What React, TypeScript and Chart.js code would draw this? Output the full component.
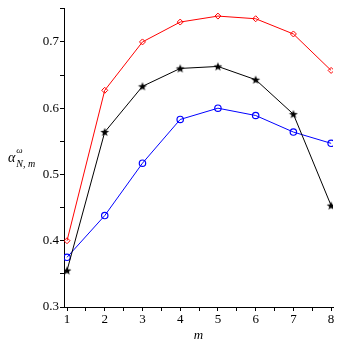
import React, { useEffect, useRef } from "react";
import { Chart, registerables } from "chart.js";
Chart.register(...registerables);

const mValues = [1, 2, 3, 4, 5, 6, 7, 8];
const redSeries = [0.4, 0.627, 0.7, 0.73, 0.739, 0.735, 0.712, 0.657];
const blackSeries = [0.355, 0.564, 0.633, 0.66, 0.663, 0.643, 0.591, 0.453];
const blueSeries = [0.375, 0.438, 0.517, 0.583, 0.6, 0.589, 0.564, 0.547];
const xTicks = [1, 1.5, 2, 2.5, 3, 3.5, 4, 4.5, 5, 5.5, 6, 6.5, 7, 7.5, 8];
const yTicks = [0.3, 0.35, 0.4, 0.45, 0.5, 0.55, 0.6, 0.65, 0.7, 0.75];

const FONT = "'Liberation Serif', 'DejaVu Serif', serif";

function makeStar(): HTMLCanvasElement {
  const c = document.createElement("canvas");
  const size = 10;
  c.width = size;
  c.height = size;
  const ctx = c.getContext("2d")!;
  const cx = size / 2, cy = size / 2 + 0.3;
  const R = 4.6, r = 1.9;
  ctx.beginPath();
  for (let i = 0; i < 10; i++) {
    const rad = i % 2 === 0 ? R : r;
    const a = -Math.PI / 2 + (i * Math.PI) / 5;
    const px = cx + rad * Math.cos(a);
    const py = cy + rad * Math.sin(a);
    if (i === 0) ctx.moveTo(px, py);
    else ctx.lineTo(px, py);
  }
  ctx.closePath();
  ctx.fillStyle = "#000";
  ctx.fill();
  return c;
}

export default function App() {
  const ref = useRef<HTMLCanvasElement>(null);
  useEffect(() => {
    if (!ref.current) return;
    const mk = (vals: number[]) => mValues.map((m, i) => ({ x: m, y: vals[i] }));
    const star = makeStar();
    const chart = new Chart(ref.current, {
      type: "line",
      data: {
        datasets: [
          {
            data: mk(redSeries),
            borderColor: "#ff0000",
            backgroundColor: "rgba(0,0,0,0)",
            borderWidth: 1,
            pointStyle: "rectRot",
            pointRadius: 3,
            pointBorderWidth: 1,
            pointBorderColor: "#ff0000",
          },
          {
            data: mk(blackSeries),
            borderColor: "#000000",
            backgroundColor: "rgba(0,0,0,0)",
            borderWidth: 1,
            pointStyle: star as any,
            pointRadius: 4,
            pointBorderWidth: 0,
          },
          {
            data: mk(blueSeries),
            borderColor: "#0000ff",
            backgroundColor: "rgba(0,0,0,0)",
            borderWidth: 1,
            pointStyle: "circle",
            pointRadius: 3.2,
            pointBorderWidth: 1.2,
            pointBorderColor: "#0000ff",
          },
        ],
      },
      options: {
        animation: false,
        responsive: false,
        maintainAspectRatio: false,
        layout: { padding: { top: 6, right: 10, left: 0, bottom: 0 } },
        plugins: { legend: { display: false }, tooltip: { enabled: false } },
        scales: {
          x: {
            type: "linear",
            min: 0.92,
            max: 8.05,
            afterBuildTicks: (s: any) => {
              s.ticks = xTicks.map((v) => ({ value: v }));
            },
            afterFit: (s: any) => {
              s.height = 36;
            },
            border: { display: true, color: "#000", width: 1 },
            grid: { drawOnChartArea: false, drawTicks: true, tickLength: 4, tickColor: "#000" },
            ticks: {
              color: "#000",
              padding: 1,
              font: { family: FONT, size: 13 },
              maxRotation: 0,
              autoSkip: false,
              callback: (v: any) => (Number.isInteger(v) ? String(v) : ""),
            },
            title: {
              display: true,
              text: "m",
              color: "#000",
              font: { family: FONT, size: 13, style: "italic" },
              padding: { top: 0, bottom: 0 },
            },
          },
          y: {
            type: "linear",
            min: 0.3,
            max: 0.75,
            afterBuildTicks: (s: any) => {
              s.ticks = yTicks.map((v) => ({ value: v }));
            },
            afterFit: (s: any) => {
              s.width = 64;
            },
            border: { display: true, color: "#000", width: 1 },
            grid: { drawOnChartArea: false, drawTicks: true, tickLength: 4, tickColor: "#000" },
            ticks: {
              color: "#000",
              padding: 1,
              font: { family: FONT, size: 13 },
              autoSkip: false,
              callback: (v: any) => {
                const r = Math.round(v * 100);
                return r % 10 === 0 ? (r / 100).toFixed(1) : "";
              },
            },
          },
        },
      },
    });
    return () => chart.destroy();
  }, []);
  return (
    <div style={{ position: "absolute", left: 0, top: 0, width: 343, height: 343, background: "#fff" }}>
      <canvas ref={ref} width={343} height={343} style={{ width: 343, height: 343 }} />
      <div
        style={{
          position: "absolute",
          left: 8,
          top: 151,
          fontFamily: FONT,
          fontSize: 14,
          fontStyle: "italic",
          color: "#000",
          whiteSpace: "nowrap",
          lineHeight: 1,
        }}
      >
        α
        <span style={{ position: "relative", display: "inline-block", verticalAlign: "top" }}>
          <span style={{ position: "absolute", left: 1, top: -5, fontSize: 9 }}>ω</span>
          <span style={{ position: "absolute", left: 1, top: 8, fontSize: 10 }}>N, m</span>
        </span>
      </div>
    </div>
  );
}
